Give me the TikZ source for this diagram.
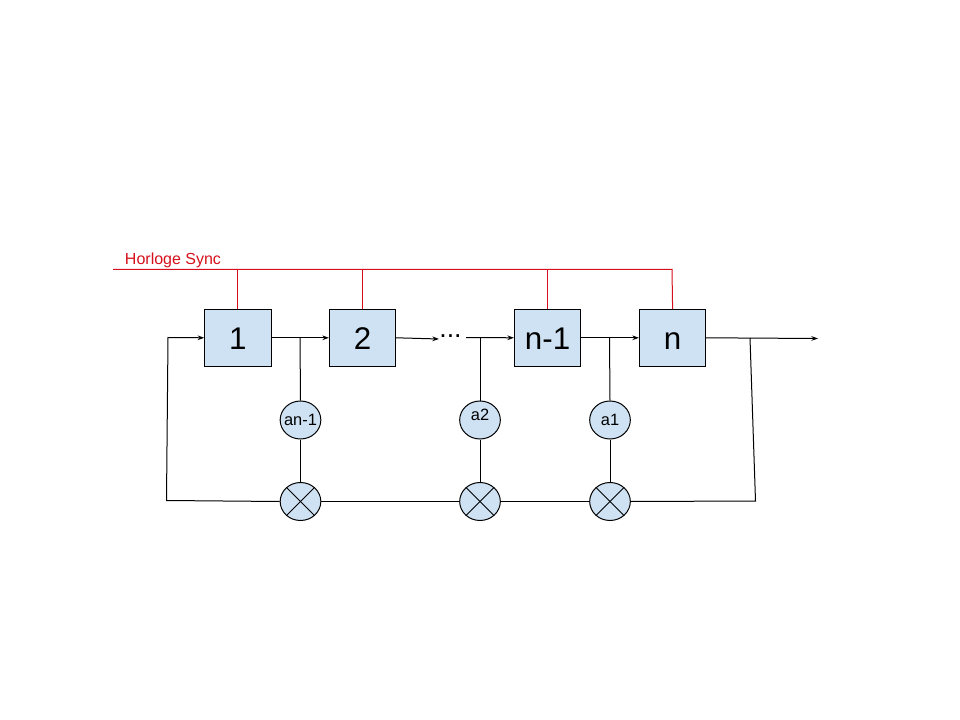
\documentclass[tikz,border=0pt]{standalone}
\usepackage{fontspec}
\setmainfont{Liberation Sans}
\usetikzlibrary{shapes.geometric,arrows.meta}
\definecolor{boxfill}{HTML}{CFE2F3}
\definecolor{clockred}{HTML}{D5101C}
\tikzset{
    regbox/.style={draw=black,fill=boxfill,line width=0.75pt,minimum width=49.7pt,minimum height=42.5pt,inner sep=0pt,text height=17pt,text depth=0pt,font=\fontsize{23.5}{24}\selectfont},
    coefnode/.style={ellipse,draw=black,fill=boxfill,line width=0.75pt,minimum width=30.5pt,minimum height=28.5pt,inner sep=-6pt,font=\fontsize{12.3}{13}\selectfont},
    wire/.style={line width=0.75pt,black},
    arrowwire/.style={wire,-{Stealth[length=5pt,width=3.5pt]}},
    clockwire/.style={line width=0.75pt,clockred}
}
\begin{document}
\begin{tikzpicture}[x=0.75pt,y=-0.75pt]
        \useasboundingbox (0,0) rectangle (960,720);
        % registers
        \foreach \name/\x/\txt in {r1/237.9/1,r2/362.6/2,rm/547.6/n-1,rn/672.6/n}
        \node[regbox] (\name) at (\x,337.8) {\txt};
        % coefficients and multipliers
        \node[coefnode] (c1) at (300.5,420) {an-1};
        \node[coefnode,text depth=8pt] (c2) at (480,420) {a2};
        \node[coefnode] (c3) at (610,420) {a1};
        \foreach \name/\x in {m1/300.5,m2/480,m3/610}{
        \node[coefnode] (\name) at (\x,501.5) {};
        \draw[wire] (\name.45)--(\name.225);
        \draw[wire] (\name.135)--(\name.315);
        }
        \node[font=\fontsize{20}{20}\selectfont,inner sep=0pt] (dots) at (450.5,336) {...};
        % junctions and free ends
        \coordinate (j1) at (300,338);
        \coordinate (j2) at (480,338);
        \coordinate (j3) at (609.5,338);
        \coordinate (j4) at (750,338);
        \coordinate (out) at (818,338.5);
        \coordinate (dotsin) at (439,339);
        \coordinate (dotsout) at (466,337.5);
        \coordinate (fbtop) at (168,337.5);
        \coordinate (fbbot) at (166.5,500.5);
        \coordinate (fbright) at (755.5,501);
        % signal path
        \draw[arrowwire] (r1.east)--(r2.west);
        \draw[arrowwire] (r2.east)--(dotsin);
        \draw[arrowwire] (dotsout)--(rm.west);
        \draw[arrowwire] (rm.east)--(rn.west);
        \draw[arrowwire] (rn.east)--(out);
        \draw[arrowwire] (m1.west)--(fbbot)--(fbtop)--(r1.west);
        % taps
        \draw[wire] (j1)--(c1.north);
        \draw[wire] (j2)--(c2.north);
        \draw[wire] (j3)--(c3.north);
        \foreach \i in {1,2,3}
        \draw[wire] (c\i.south)--(m\i.north);
        \draw[wire] (j4)--(fbright)--(m3.east);
        \draw[wire] (m1.east)--(m2.west);
        \draw[wire] (m2.east)--(m3.west);
        % clock
        \coordinate (clkin) at (113,269.5);
        \coordinate (clkend) at (672,269.5);
        \node[text=clockred,font=\fontsize{12}{13}\selectfont,inner sep=0pt] (clklabel) at (173,260) {Horloge Sync};
        \draw[clockwire] (clkin)--(clkend)--(rn.north);
        \foreach \name in {r1,r2,rm}
        \draw[clockwire] (\name.north)--(\name.north|-clkin);
    \end{tikzpicture}
\end{document}
